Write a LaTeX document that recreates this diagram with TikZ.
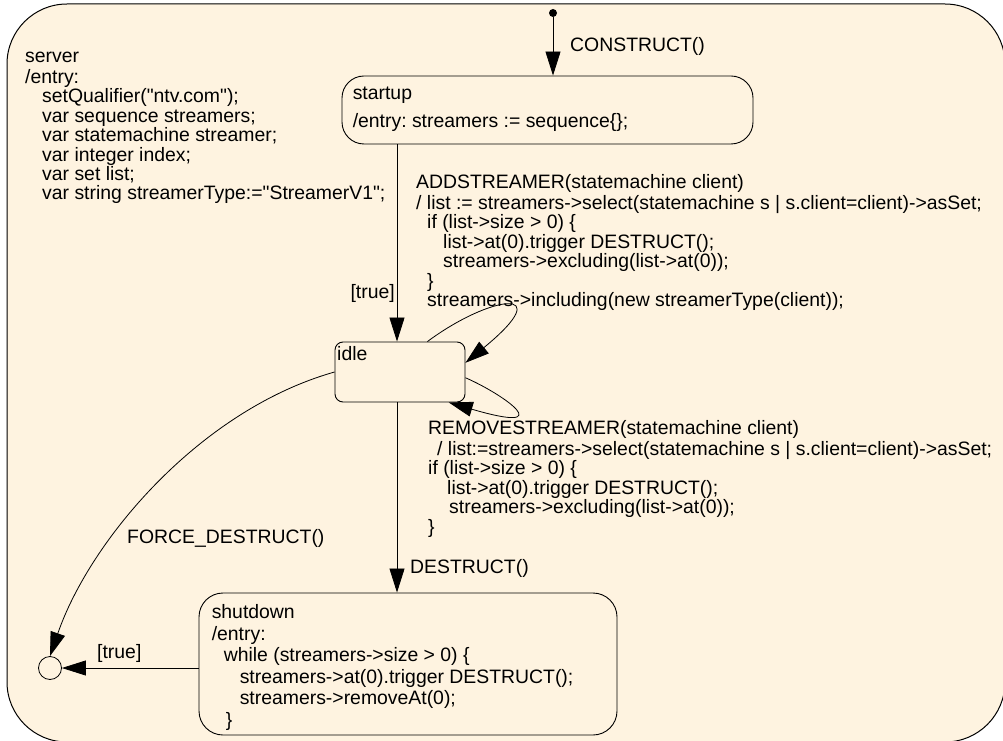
\documentclass[tikz,border=0pt]{standalone}
\usepackage{fontspec}
\setmainfont{Liberation Sans}[Ligatures=TeXOff]
\usetikzlibrary{arrows.meta, positioning}
\definecolor{cream}{RGB}{254,243,224}
\frenchspacing

\begin{document}
\begin{tikzpicture}[x=1pt, y=1pt,
  every node/.style={font=\fontsize{19.4}{19.4}\selectfont, inner sep=0pt},
  state/.style={draw, line width=0.9pt},
  txt/.style={anchor=north west, align=left},
  trans/.style={line width=0.8pt, -{Triangle[length=24pt,width=15pt]}}]
\useasboundingbox (0,0) rectangle (1003,740);
\clip (0,0) rectangle (1003,740);
\draw[fill=cream, line width=1pt, rounded corners=60pt] (7,-2) rectangle (1005,736);

\node[txt] (srv) at (25,691.1) {\strut server\\
/entry:\\
\hspace*{17pt}setQualifier("ntv.com");\\
\hspace*{17pt}var sequence streamers;\\
\hspace*{17pt}var statemachine streamer;\\
\hspace*{17pt}var integer index;\\
\hspace*{17pt}var set list;\\
\hspace*{17pt}var string streamerType:="StreamerV1";};

\node[fill, circle, minimum size=8pt] (init) at (553,727) {};
\node[state, rounded corners=22pt, minimum width=411pt, minimum height=68pt] (startup) at (547.5,630) {};
\node[state, rounded corners=8pt, minimum width=130pt, minimum height=60pt] (idle) at (400,368) {};
\node[state, rounded corners=24pt, minimum width=418pt, minimum height=142pt] (shutdown) at (408,76) {};
\node[draw, circle, minimum size=23pt, line width=0.8pt] (final) at (50,72) {};

\node[txt, below right=10.4pt and 11pt of startup.north west] (startuptxt) {\strut startup\\[6.6pt]
/entry: streamers := sequence\{\};};
\node[anchor=base west] (idletxt) at (337,380) {idle};
\node[txt, font=\fontsize{19.4}{21.5}\selectfont, below right=11pt and 13pt of shutdown.north west] (shutdowntxt) {\strut shutdown\\
/entry:\\
\hspace*{12pt}while (streamers->size > 0) \{\\
\hspace*{28pt}streamers->at(0).trigger DESTRUCT();\\
\hspace*{28pt}streamers->removeAt(0);\\
\hspace*{14pt}\}};

% transitions
\coordinate (tr) at (397,0);
\draw[trans] (init) -- (init |- startup.north);
\draw[trans] (startup.south -| tr) -- (idle.north -| tr);
\draw[trans] (idle.south -| tr) -- (shutdown.north -| tr);
\draw[trans] (shutdown.west |- final) -- (final.east);
\draw[trans] (idle.west) .. controls (200,330) and (90,200) .. (final.north);
\draw[trans] (idle.48) .. controls (490,445) and (560,455) .. (idle.8);
\draw[trans] (idle.355) .. controls (505,345) and (560,305) .. (idle.328);

% labels
\node[anchor=base west] (construct) at (570,688) {CONSTRUCT()};
\node[anchor=base east] (true1) at (395,441) {[true]};
\node[txt] (addstr) at (416,565.6) {\strut ADDSTREAMER(statemachine client)\\
/ list := streamers->select(statemachine s | s.client=client)->asSet;\\
\hspace*{11pt}if (list->size > 0) \{\\
\hspace*{27pt}list->at(0).trigger DESTRUCT();\\
\hspace*{27pt}streamers->excluding(list->at(0));\\
\hspace*{11pt}\}\\
\hspace*{11pt}streamers->including(new streamerType(client));};
\node[txt] (remstr) at (428,319.6) {\strut REMOVESTREAMER(statemachine client)\\
\hspace*{9pt}/ list:=streamers->select(statemachine s | s.client=client)->asSet;\\
if (list->size > 0) \{\\
\hspace*{19pt}list->at(0).trigger DESTRUCT();\\
\hspace*{21pt}streamers->excluding(list->at(0));\\
\}};
\node[anchor=base west] (destruct) at (410,167) {DESTRUCT()};
\node[anchor=base west] (force) at (127,197) {FORCE\_DESTRUCT()};
\node[anchor=base west] (true2) at (97,82) {[true]};
\end{tikzpicture}
\end{document}
